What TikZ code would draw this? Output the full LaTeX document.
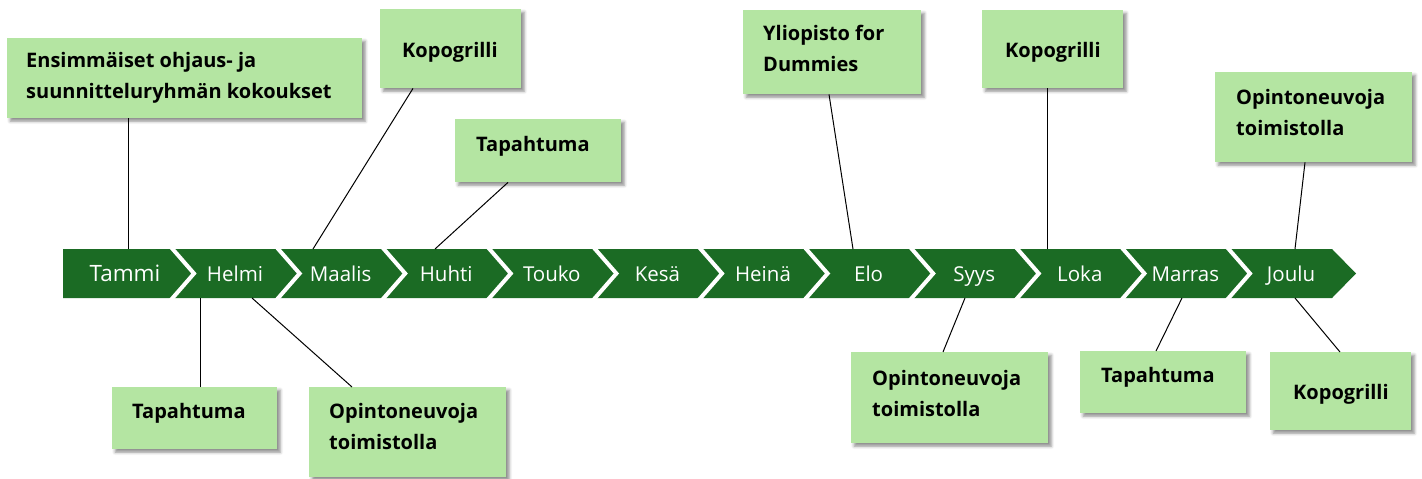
\documentclass[tikz,border=0pt]{standalone}
\usepackage{fontspec}
\setmainfont{Open Sans}
\usetikzlibrary{calc,shadows.blur}
\definecolor{barg}{HTML}{1B6B24}
\definecolor{boxg}{HTML}{B4E5A2}
\begin{document}
\begin{tikzpicture}[x=1pt,y=-1pt,
  box/.style={fill=boxg, draw=none, inner sep=0pt, anchor=north west,
    blur shadow={shadow xshift=3pt, shadow yshift=-3pt, shadow blur radius=3pt, shadow opacity=45}},
  lbl/.style={font=\bfseries\fontsize{20}{30.5}\selectfont, align=left, anchor=base west, inner sep=0pt, text=black},
  mon/.style={font=\fontsize{20.5}{24}\selectfont, text=white, inner sep=0pt, anchor=base},
  con/.style={draw=black, line width=1pt},
  sepline/.style={draw=white, line width=4pt}]
\useasboundingbox (0,0) rectangle (1422,479);

% timeline bar
\fill[barg] (63,249) -- (1332,249) -- (1356,273.5) -- (1332,298) -- (63,298) -- cycle;
\foreach \k in {0,...,10}
  \draw[sepline] ({170+105.6*\k},246) -- ({194+105.6*\k},273.5) -- ({170+105.6*\k},301);

% month labels
\node[mon, font=\fontsize{22.5}{26}\selectfont] (m0) at (125,281) {Tammi};
\foreach \n [count=\i from 0] in {Helmi,Maalis,Huhti,Touko,Kesä,Heinä,Elo,Syys,Loka,Marras,Joulu}
  \node[mon] (m\i) at ({235+105.6*\i},281) {\n};

% anchor points on the bar
\coordinate (t1) at (128,249);
\coordinate (t2) at (313,249);
\coordinate (t3) at (435,249);
\coordinate (t4) at (853,249);
\coordinate (t5) at (1047,249);
\coordinate (t6) at (1295,249);
\coordinate (s7) at (200,298);
\coordinate (s8) at (252,298);
\coordinate (s9) at (965,298);
\coordinate (s10) at (1182,298);
\coordinate (s11) at (1295,298);

% boxes
\node[box, minimum width=355, minimum height=80] (b1) at (7,38) {};
\node[box, minimum width=141, minimum height=79] (b2) at (380,9) {};
\node[box, minimum width=166, minimum height=63] (b3) at (455,119) {};
\node[box, minimum width=178, minimum height=84] (b4) at (743,10) {};
\node[box, minimum width=141, minimum height=78] (b5) at (982,10) {};
\node[box, minimum width=197, minimum height=90] (b6) at (1215,72) {};
\node[box, minimum width=165, minimum height=62] (b7) at (112,387) {};
\node[box, minimum width=197, minimum height=90] (b8) at (309,387) {};
\node[box, minimum width=197, minimum height=91] (b9) at (851,352) {};
\node[box, minimum width=166, minimum height=62] (b10) at (1080,351) {};
\node[box, minimum width=141, minimum height=78] (b11) at (1270,352) {};

% connectors
\draw[con] ($(b1.south west)+(121,0)$) -- (t1);
\draw[con] ($(b2.south west)+(33,0)$) -- (t2);
\draw[con] ($(b3.south west)+(53,0)$) -- (t3);
\draw[con] ($(b4.south west)+(86,0)$) -- (t4);
\draw[con] ($(b5.south west)+(65,0)$) -- (t5);
\draw[con] ($(b6.south west)+(90,0)$) -- (t6);
\draw[con] ($(b7.north west)+(88,0)$) -- (s7);
\draw[con] ($(b8.north west)+(43,0)$) -- (s8);
\draw[con] ($(b9.north west)+(92,0)$) -- (s9);
\draw[con] ($(b10.north west)+(76,0)$) -- (s10);
\draw[con] ($(b11.north west)+(70,0)$) -- (s11);

% box texts (base anchor = baseline of the last line)
\node[lbl] (x1) at (26,98) {Ensimmäiset ohjaus- ja\\suunnitteluryhmän kokoukset};
\node[lbl] (x2) at (402,57) {Kopogrilli};
\node[lbl] (x3) at (476,151) {Tapahtuma};
\node[lbl] (x4) at (763,71) {Yliopisto for\\Dummies};
\node[lbl] (x5) at (1005,57) {Kopogrilli};
\node[lbl] (x6) at (1236,135) {Opintoneuvoja\\toimistolla};
\node[lbl] (x7) at (132,418) {Tapahtuma};
\node[lbl] (x8) at (329,449) {Opintoneuvoja\\toimistolla};
\node[lbl] (x9) at (872,416) {Opintoneuvoja\\toimistolla};
\node[lbl] (x10) at (1101,382) {Tapahtuma};
\node[lbl] (x11) at (1293,399) {Kopogrilli};
\end{tikzpicture}
\end{document}
